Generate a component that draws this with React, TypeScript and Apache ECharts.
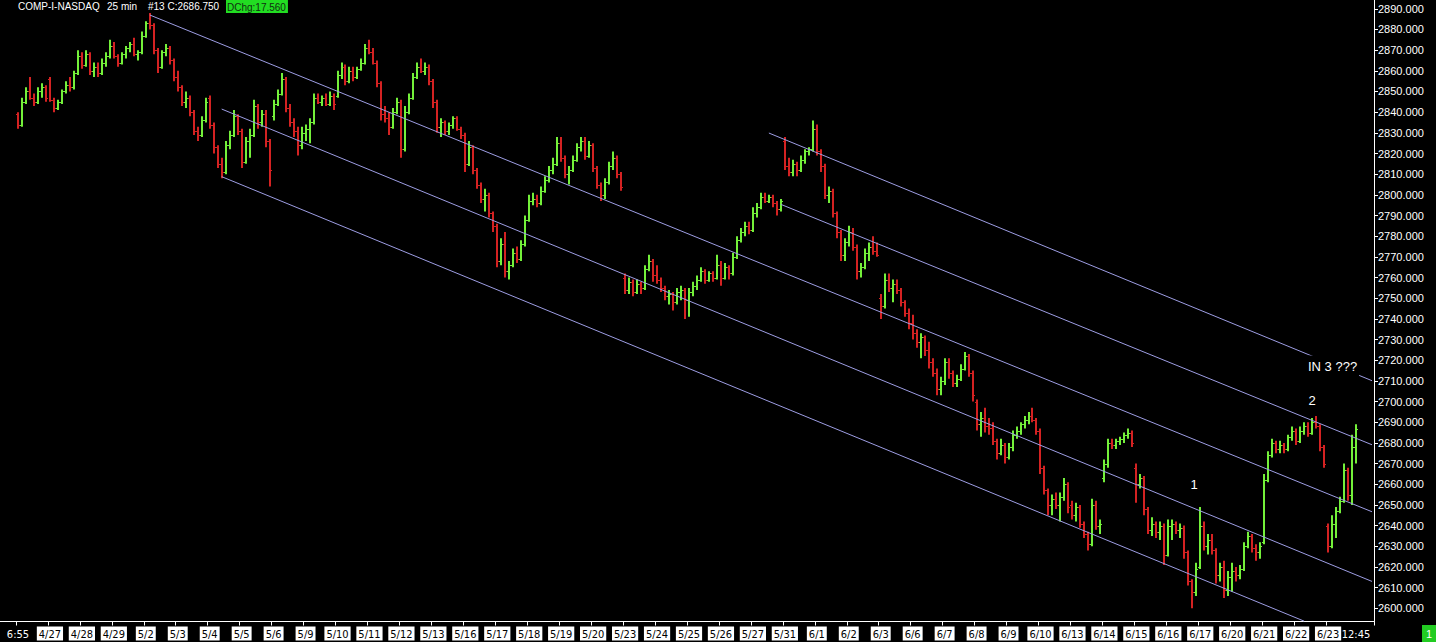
import React, { useEffect, useRef } from 'react';
import * as echarts from 'echarts';

// ---------- data (8 bars per trading day) ----------
const dayLabels = ['4/26','4/27','4/28','4/29','5/2','5/3','5/4','5/5','5/6','5/9','5/10','5/11','5/12','5/13','5/16','5/17','5/18','5/19','5/20','5/23','5/24','5/25','5/26','5/27','5/31','6/1','6/2','6/3','6/6','6/7','6/8','6/9','6/10','6/13','6/14','6/15','6/16','6/17','6/20','6/21','6/22','6/23'];
const firstTimeLabel = '6:55';
const lastTimeLabel = '12:45';

const opens: number[][] = [
  [2839,2834,2845,2850,2847,2845,2850,2852],
  [2856,2846,2842,2845,2850,2853,2852,2859],
  [2867,2863,2868,2860,2862,2859,2864,2867],
  [2872,2867,2864,2868,2871,2873,2868,2869],
  [2877,2883,2882,2870,2862,2869,2871,2865],
  [2857,2852,2845,2847,2840,2831,2829,2836],
  [2847,2834,2823,2815,2811,2824,2829,2838],
  [2831,2816,2826,2829,2843,2835,2839,2826],
  [2838,2844,2849,2856,2842,2835,2831,2824],
  [2830,2832,2835,2847,2845,2847,2844,2848],
  [2848,2858,2862,2855,2860,2857,2861,2864],
  [2871,2869,2864,2854,2839,2837,2833,2840],
  [2845,2822,2840,2847,2857,2862,2860,2862],
  [2855,2845,2833,2835,2831,2834,2837,2832],
  [2829,2815,2823,2812,2805,2798,2800,2791],
  [2785,2768,2776,2763,2766,2772,2769,2776],
  [2788,2797,2798,2796,2802,2807,2812,2815],
  [2825,2818,2810,2812,2817,2823,2826,2819],
  [2824,2813,2805,2800,2806,2814,2818,2810],
  [2760,2754,2758,2753,2757,2755,2764,2768],
  [2761,2759,2755,2751,2752,2748,2753,2754],
  [2749,2753,2756,2759,2763,2759,2762,2760],
  [2766,2760,2765,2762,2770,2778,2782,2785],
  [2783,2791,2794,2799,2797,2799,2796,2793],
  [2826,2814,2811,2815,2812,2817,2821,2822],
  [2832,2821,2814,2800,2802,2791,2782,2771],
  [2777,2782,2775,2763,2765,2772,2775,2773],
  [2750,2746,2759,2755,2757,2754,2748,2743],
  [2738,2733,2729,2731,2725,2719,2714,2706],
  [2710,2719,2714,2709,2711,2716,2722,2714],
  [2700,2689,2692,2688,2687,2681,2675,2679],
  [2673,2678,2684,2686,2689,2691,2693,2691],
  [2686,2668,2657,2650,2653,2650,2654,2660],
  [2650,2645,2649,2641,2636,2631,2650,2640],
  [2663,2670,2680,2679,2681,2682,2684,2685],
  [2668,2660,2663,2648,2638,2641,2637,2640],
  [2626,2640,2641,2638,2639,2627,2613,2608],
  [2620,2640,2630,2633,2628,2616,2620,2609],
  [2615,2618,2616,2619,2630,2635,2629,2627],
  [2632,2662,2674,2680,2677,2679,2677,2683],
  [2686,2681,2686,2688,2685,2690,2688,2678],
  [2640,2630,2641,2647,2652,2667,2655,2678],
];

const highs: number[][] = [
  [2840,2847,2852,2857,2849,2852,2854,2853],
  [2857,2847,2846,2851,2855,2857,2860,2870],
  [2869,2870,2869,2864,2864,2866,2869,2875],
  [2874,2868,2869,2872,2874,2876,2870,2879],
  [2884,2888,2883,2871,2870,2873,2872,2866],
  [2860,2853,2850,2848,2841,2833,2838,2847],
  [2848,2835,2824,2818,2826,2831,2841,2839],
  [2832,2828,2832,2846,2844,2841,2841,2827],
  [2846,2851,2859,2857,2844,2837,2833,2833],
  [2834,2837,2849,2849,2848,2849,2850,2849],
  [2860,2864,2863,2862,2862,2862,2866,2873],
  [2875,2871,2865,2855,2843,2840,2842,2847],
  [2846,2843,2849,2859,2864,2866,2864,2863],
  [2856,2846,2837,2836,2835,2838,2838,2833],
  [2830,2826,2824,2813,2806,2803,2801,2792],
  [2786,2779,2782,2768,2774,2775,2778,2790],
  [2800,2801,2800,2804,2809,2814,2818,2828],
  [2828,2819,2814,2819,2825,2828,2828,2826],
  [2825,2814,2806,2808,2816,2821,2819,2811],
  [2762,2760,2759,2759,2758,2766,2771,2769],
  [2766,2760,2756,2754,2753,2755,2756,2755],
  [2755,2758,2761,2765,2764,2763,2763,2771],
  [2768,2767,2766,2772,2780,2784,2787,2787],
  [2794,2796,2801,2801,2800,2800,2797,2798],
  [2828,2818,2817,2816,2819,2822,2823,2836],
  [2834,2822,2815,2804,2803,2792,2783,2779],
  [2785,2784,2776,2767,2774,2777,2780,2777],
  [2752,2762,2762,2759,2759,2755,2749,2745],
  [2742,2735,2733,2732,2729,2721,2716,2712],
  [2721,2721,2715,2713,2718,2724,2723,2715],
  [2701,2695,2697,2692,2690,2682,2682,2680],
  [2680,2686,2688,2690,2693,2695,2697,2692],
  [2687,2669,2658,2655,2656,2656,2663,2661],
  [2652,2651,2650,2642,2637,2653,2652,2643],
  [2672,2682,2682,2682,2683,2685,2687,2686],
  [2670,2665,2664,2649,2644,2642,2642,2641],
  [2643,2643,2642,2641,2640,2628,2614,2622],
  [2649,2642,2636,2636,2629,2622,2623,2618],
  [2622,2620,2621,2632,2637,2636,2631,2632],
  [2665,2676,2682,2681,2681,2680,2684,2688],
  [2687,2688,2690,2690,2692,2693,2689,2679],
  [2641,2645,2649,2654,2670,2668,2684,2689],
];

const lows: number[][] = [
  [2832,2833,2844,2846,2843,2844,2847,2845],
  [2845,2840,2841,2844,2849,2850,2851,2858],
  [2861,2862,2858,2857,2857,2858,2862,2866],
  [2866,2862,2863,2866,2869,2867,2865,2868],
  [2876,2880,2868,2859,2861,2867,2863,2855],
  [2850,2843,2842,2838,2829,2826,2828,2835],
  [2832,2820,2813,2808,2810,2822,2828,2829],
  [2813,2815,2818,2828,2832,2833,2823,2804],
  [2836,2843,2848,2840,2833,2828,2819,2822],
  [2826,2825,2834,2844,2843,2843,2843,2841],
  [2847,2856,2853,2854,2855,2856,2860,2863],
  [2868,2863,2852,2836,2835,2829,2832,2839],
  [2818,2821,2839,2846,2856,2859,2858,2853],
  [2842,2830,2828,2829,2829,2832,2831,2827],
  [2811,2814,2810,2803,2796,2792,2789,2782],
  [2765,2766,2760,2759,2765,2767,2768,2775],
  [2787,2795,2794,2795,2801,2806,2810,2814],
  [2816,2808,2805,2811,2816,2821,2817,2818],
  [2811,2803,2797,2798,2805,2812,2808,2802],
  [2752,2752,2751,2752,2752,2754,2763,2758],
  [2757,2753,2749,2747,2744,2747,2749,2740],
  [2741,2751,2754,2758,2757,2758,2758,2759],
  [2756,2759,2759,2761,2769,2777,2780,2781],
  [2782,2789,2793,2796,2796,2794,2790,2792],
  [2812,2809,2809,2809,2811,2815,2819,2821],
  [2819,2811,2798,2796,2789,2779,2768,2768],
  [2775,2773,2759,2760,2764,2768,2771,2770],
  [2740,2745,2753,2748,2752,2746,2741,2735],
  [2730,2726,2721,2722,2716,2712,2703,2703],
  [2708,2711,2707,2707,2710,2715,2712,2700],
  [2686,2683,2685,2684,2679,2672,2674,2670],
  [2672,2676,2682,2684,2687,2689,2690,2684],
  [2665,2655,2645,2645,2648,2642,2652,2646],
  [2643,2642,2639,2634,2628,2630,2638,2636],
  [2661,2668,2677,2677,2679,2680,2682,2678],
  [2651,2658,2645,2636,2635,2634,2633,2621],
  [2625,2633,2636,2634,2624,2611,2600,2606],
  [2619,2628,2626,2626,2612,2613,2605,2606],
  [2608,2613,2614,2618,2629,2627,2623,2624],
  [2631,2661,2673,2675,2675,2675,2676,2681],
  [2679,2680,2684,2683,2684,2687,2676,2668],
  [2627,2629,2634,2646,2651,2652,2650,2670],
];

const closes: number[][] = [
  [2834,2845,2850,2847,2845,2850,2852,2847],
  [2846,2842,2845,2850,2853,2852,2859,2867],
  [2863,2868,2860,2862,2859,2864,2867,2872],
  [2867,2864,2868,2871,2873,2868,2869,2877],
  [2883,2882,2870,2862,2869,2871,2865,2857],
  [2852,2845,2847,2840,2831,2829,2836,2845],
  [2834,2823,2815,2811,2824,2829,2838,2831],
  [2816,2826,2829,2843,2835,2839,2826,2812],
  [2844,2849,2856,2842,2835,2831,2824,2830],
  [2832,2835,2847,2845,2847,2844,2848,2844],
  [2858,2862,2855,2860,2857,2861,2864,2871],
  [2869,2864,2854,2839,2837,2833,2840,2845],
  [2822,2840,2847,2857,2862,2860,2862,2855],
  [2845,2833,2835,2831,2834,2837,2832,2829],
  [2815,2823,2812,2805,2798,2800,2791,2785],
  [2768,2776,2763,2766,2772,2769,2776,2788],
  [2797,2798,2796,2802,2807,2812,2815,2825],
  [2818,2810,2812,2817,2823,2826,2819,2824],
  [2813,2805,2800,2806,2814,2818,2810,2804],
  [2754,2758,2753,2757,2755,2764,2768,2761],
  [2759,2755,2751,2752,2748,2753,2754,2749],
  [2753,2756,2759,2763,2759,2762,2760,2766],
  [2760,2765,2762,2770,2778,2782,2785,2783],
  [2791,2794,2799,2797,2799,2796,2793,2797],
  [2814,2811,2815,2812,2817,2821,2822,2832],
  [2821,2814,2800,2802,2791,2782,2771,2777],
  [2782,2775,2763,2765,2772,2775,2773,2771],
  [2746,2759,2755,2757,2754,2748,2743,2738],
  [2733,2729,2731,2725,2719,2714,2706,2710],
  [2719,2714,2709,2711,2716,2722,2714,2703],
  [2689,2692,2688,2687,2681,2675,2679,2673],
  [2678,2684,2686,2689,2691,2693,2691,2686],
  [2668,2657,2650,2653,2650,2654,2660,2649],
  [2645,2649,2641,2636,2631,2650,2640,2641],
  [2670,2680,2679,2681,2682,2684,2685,2680],
  [2660,2663,2648,2638,2641,2637,2640,2626],
  [2640,2641,2638,2639,2627,2613,2608,2619],
  [2640,2630,2633,2628,2616,2620,2609,2615],
  [2618,2616,2619,2630,2635,2629,2627,2630],
  [2662,2674,2680,2677,2679,2677,2683,2686],
  [2681,2686,2688,2685,2690,2688,2678,2670],
  [2630,2641,2647,2652,2667,2655,2678,2686.75],
];

// trend lines drawn on the chart: [bar slot, price] end points
const trendA = [[37, 2887.0], [343, 2646.7]];
const trendB = [[55, 2841.5], [343, 2613.0]];
const trendC = [[55, 2808.8], [326, 2593.8]];
const trendD = [[192, 2829.9], [343, 2710.1]];
const trendE = [[195, 2795.4], [343, 2679.1]];

const yMin = 2600;
const yMax = 2890;
const yStep = 10;

// ---------- styling ----------
const GREEN = '#74f03a';
const RED = '#d42222';
const TREND = '#9d9de3';
const FONT = '"Liberation Sans", Arial, Helvetica, sans-serif';
const NARROW = '"Liberation Sans Narrow", "Arial Narrow", "DejaVu Sans Condensed", sans-serif';

const PAD = 4;
const BARS_PER_DAY = 8;
const N_CAT = 344;

export default function App() {
  const ref = useRef<HTMLDivElement>(null);

  useEffect(() => {
    if (!ref.current) return;
    const chart = echarts.init(ref.current, null, { renderer: 'svg' });

    const categories = Array.from({ length: N_CAT }, (_, i) => 'b' + i);
    const ohlc: number[][] = [];
    dayLabels.forEach((_, d) => {
      for (let j = 0; j < BARS_PER_DAY; j++) {
        ohlc.push([PAD + d * BARS_PER_DAY + j, opens[d][j], highs[d][j], lows[d][j], closes[d][j]]);
      }
    });
    const nBars = dayLabels.length * BARS_PER_DAY;
    const lastIdx = PAD + nBars - 1;
    const lastClose = closes[closes.length - 1][BARS_PER_DAY - 1];
    const isDayStart = (i: number) => i >= PAD && i < PAD + nBars && (i - PAD) % BARS_PER_DAY === 0;

    const trendSeries = [trendA, trendB, trendC, trendD, trendE].map((data, k) => {
      const s: any = {
        type: 'line',
        xAxisIndex: 0,
        yAxisIndex: 0,
        data,
        symbol: 'none',
        silent: true,
        clip: k !== 2,
        z: 3,
        lineStyle: { color: TREND, width: 1 },
      };
      if (k === 2) {
        s.markLine = {
          silent: true,
          symbol: 'none',
          data: [{ yAxis: lastClose }],
          lineStyle: { opacity: 0 },
          label: {
            show: true,
            position: 'end',
            distance: 5,
            formatter: lastClose.toFixed(3),
            color: '#000',
            backgroundColor: '#fff',
            padding: [2, 1, 1, 1],
            fontSize: 11,
            fontFamily: FONT,
          },
        };
      }
      return s;
    });

    const option: any = {
      animation: false,
      backgroundColor: '#000',
      grid: [
        { left: -2, right: 62, top: 8.8, bottom: 33.7 },
        { left: -2, right: 62, top: 0, bottom: 20.5 },
      ],
      xAxis: [
        {
          type: 'category',
          gridIndex: 0,
          data: categories,
          boundaryGap: true,
          show: false,
        },
        {
          type: 'category',
          gridIndex: 1,
          data: categories,
          boundaryGap: true,
          axisLine: { show: true, onZero: false, lineStyle: { color: '#fff', width: 1 } },
          axisTick: {
            show: true,
            interval: (i: number) => isDayStart(i),
            length: 4,
            lineStyle: { color: '#fff' },
          },
          axisLabel: {
            show: true,
            interval: (i: number) => isDayStart(i) || i === lastIdx,
            margin: 5,
            formatter: (_v: string, i: number) => {
              if (i === PAD) return '{t|' + firstTimeLabel + '}';
              if (i === lastIdx) return '{t|' + lastTimeLabel + '}';
              return '{d|' + dayLabels[(i - PAD) / BARS_PER_DAY] + '}';
            },
            rich: {
              t: { color: '#fff', fontSize: 11, fontFamily: NARROW, padding: [2, 1, 1, 1] },
              d: { color: '#000', backgroundColor: '#fff', fontSize: 11, fontFamily: NARROW, padding: [2, 2, 1, 2] },
            },
          },
          splitLine: { show: false },
        },
      ],
      yAxis: [
        {
          type: 'value',
          gridIndex: 0,
          position: 'right',
          min: yMin,
          max: yMax,
          interval: yStep,
          axisLine: { show: false },
          axisTick: { show: true, length: 4, lineStyle: { color: '#fff' } },
          axisLabel: {
            color: '#fff',
            fontSize: 11,
            fontFamily: FONT,
            margin: 4,
            formatter: (v: number) => v.toFixed(3),
          },
          splitLine: { show: false },
        },
        {
          type: 'value',
          gridIndex: 1,
          position: 'right',
          min: 0,
          max: 1,
          axisLine: { show: true, lineStyle: { color: '#fff', width: 1 } },
          axisTick: { show: false },
          axisLabel: { show: false },
          splitLine: { show: false },
        },
      ],
      series: [
        {
          type: 'custom',
          xAxisIndex: 0,
          yAxisIndex: 0,
          clip: false,
          silent: true,
          encode: { x: 0, y: [1, 2, 3, 4] },
          data: ohlc,
          renderItem: (_params: any, api: any) => {
            const x = api.value(0);
            const o = api.value(1);
            const h = api.value(2);
            const l = api.value(3);
            const c = api.value(4);
            const ph = api.coord([x, h]);
            const pl = api.coord([x, l]);
            const po = api.coord([x, o]);
            const pc = api.coord([x, c]);
            const color = c >= o ? GREEN : RED;
            const cx = Math.round(ph[0]);
            const yo = Math.round(po[1]) + 0.5;
            const yc = Math.round(pc[1]) + 0.5;
            return {
              type: 'group',
              children: [
                { type: 'rect', shape: { x: cx - 1, y: ph[1], width: 2, height: Math.max(1, pl[1] - ph[1]) }, style: { fill: color } },
                { type: 'line', shape: { x1: cx - 2, y1: yo, x2: cx - 1, y2: yo }, style: { stroke: color, lineWidth: 1 } },
                { type: 'line', shape: { x1: cx + 1, y1: yc, x2: cx + 2, y2: yc }, style: { stroke: color, lineWidth: 1 } },
              ],
            };
          },
        },
        ...trendSeries,
      ],
      graphic: [
        { type: 'text', x: 18, y: 1, z: 100, style: { text: 'COMP-I-NASDAQ', fill: '#fff', font: '10px ' + FONT, verticalAlign: 'top' } },
        { type: 'text', x: 107, y: 1, z: 100, style: { text: '25 min', fill: '#fff', font: '10px ' + FONT, verticalAlign: 'top' } },
        { type: 'text', x: 148, y: 1, z: 100, style: { text: '#13 C:2686.750', fill: '#fff', font: '10px ' + FONT, verticalAlign: 'top' } },
        { type: 'text', x: 226, y: 0, z: 100, style: { text: 'DChg:17.560', fill: '#103010', backgroundColor: '#22dd22', padding: [2, 2, 1, 1], font: '10px ' + FONT, verticalAlign: 'top' } },
        { type: 'text', x: 1194, y: 484, z: 100, style: { text: '1', fill: '#fff', font: '13px ' + FONT, align: 'center', verticalAlign: 'middle' } },
        { type: 'text', x: 1312, y: 400, z: 100, style: { text: '2', fill: '#fff', font: '13px ' + FONT, align: 'center', verticalAlign: 'middle' } },
        { type: 'text', x: 1306, y: 366, z: 100, style: { text: 'IN 3 ???', fill: '#fff', backgroundColor: '#000', padding: [4, 2, 4, 2], font: '13px ' + FONT, align: 'left', verticalAlign: 'middle' } },
        { type: 'rect', z: 100, shape: { x: 1422, y: 625, width: 14, height: 17 }, style: { fill: '#22cc22' } },
        { type: 'text', x: 1429, y: 634, z: 101, style: { text: '1', fill: '#fff', font: '11px ' + FONT, align: 'center', verticalAlign: 'middle' } },
      ],
    };

    chart.setOption(option);
    return () => chart.dispose();
  }, []);

  return (
    <div
      ref={ref}
      style={{ position: 'fixed', left: 0, top: 0, width: 1436, height: 642, background: '#000' }}
    />
  );
}
